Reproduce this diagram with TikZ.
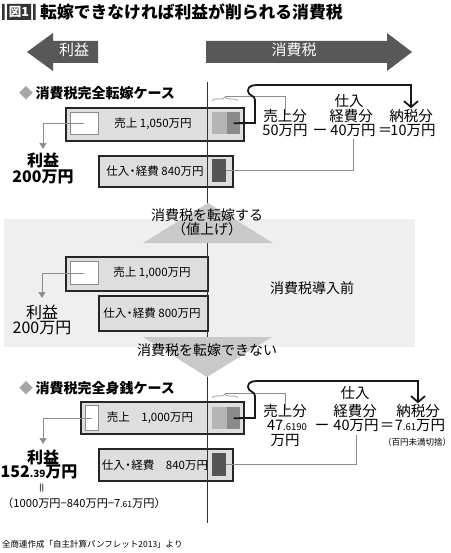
\documentclass[tikz,border=0pt]{standalone}
\usepackage{fontspec}
\setmainfont{Noto Sans CJK JP}
\usetikzlibrary{arrows.meta,decorations.pathreplacing}
\definecolor{darrow}{RGB}{88,88,88}
\definecolor{boxfill}{RGB}{222,222,222}
\definecolor{bandfill}{RGB}{239,239,239}
\definecolor{trifill}{RGB}{201,201,201}
\definecolor{taxlight}{RGB}{181,181,181}
\definecolor{taxdark}{RGB}{138,138,138}
\definecolor{costdark}{RGB}{85,85,85}
\definecolor{thingray}{RGB}{140,140,140}
\newcommand\jfs[1]{\fontsize{#1}{#1}\selectfont}
\newcommand\ndot{{\kern-0.22em}・{\kern-0.22em}}
\tikzset{
  lbl/.style={inner sep=0pt, text height=0.8em, text depth=0.1em, font=\jfs{14.5}},
  boxlbl/.style={inner sep=0pt, font=\jfs{11.5}},
  bigbox/.style={draw=black!85, line width=2pt, fill=boxfill, anchor=north west, inner sep=0pt},
  whitebox/.style={draw=thingray, line width=0.6pt, fill=white, anchor=north west, inner sep=0pt},
  taxbox/.style={fill=#1, anchor=north west, inner sep=0pt},
  thinline/.style={draw=thingray, line width=0.6pt},
  thickline/.style={draw=black!90, line width=1.8pt},
  profit/.style={inner sep=0pt, font=\jfs{16}\bfseries},
  downarrow/.style={thinline, -{Triangle[length=6pt,width=7pt]}}
}

\begin{document}
\begin{tikzpicture}[x=1pt,y=-1pt]
  \useasboundingbox (0,0) rectangle (450,553);
  % title
  \fill[black!80] (2,4) rectangle (4.5,20) (7,4) rectangle (31,20) (33,4) rectangle (35.5,20);
  \node[inner sep=0pt, text=white, font=\jfs{12.5}\bfseries] (fignum) at (19,12) {図1};
  \node[inner sep=0pt, anchor=west, font=\jfs{16.8}\bfseries] (title) at (40,12) {転嫁できなければ利益が削られる消費税};
  % header arrows
  \fill[darrow] (27,52) -- (53,33) -- (53,41) -- (98,41) -- (98,63) -- (53,63) -- (53,71) -- cycle;
  \fill[darrow] (206,41) -- (387,41) -- (387,33) -- (412,52) -- (387,71) -- (387,63) -- (206,63) -- cycle;
  \node[lbl, text=white, font=\jfs{15}] (hprofit) at (74,52) {利益};
  \node[lbl, text=white, font=\jfs{15}] (htax) at (294,52) {消費税};

  % middle band
  \fill[bandfill] (4,219) rectangle (415,347);

  % case 1: full pass-on
  \node[inner sep=0pt, anchor=west, font=\jfs{14}\bfseries] (case1) at (19,93) {{\color{black!35}◆}\,消費税完全転嫁ケース};
  \node[bigbox, minimum width=178, minimum height=33] (sale1) at (65,107) {};
  \node[bigbox, minimum width=134, minimum height=31] (cost1) at (98,155) {};
  \node[whitebox, minimum width=28, minimum height=22] (white1) at (70,112) {};
  \node[taxbox=taxlight, minimum width=15, minimum height=22] (taxl1) at (212,112) {};
  \node[taxbox=taxdark, minimum width=13, minimum height=22] (taxd1) at (227,112) {};
  \node[taxbox=costdark, minimum width=14, minimum height=23] (costd1) at (212,159) {};
  \node[boxlbl] (sale1t) at (153,124) {売上 1,050万円};
  \node[boxlbl] (cost1t) at (155,171) {仕入\ndot 経費 840万円};
  \node[profit] (pr1) at (43,160) {利益};
  \node[profit] (pr1v) at (43,177) {200万円};
  \coordinate (pa1) at (43,149);
  \node[lbl] (uri1) at (285,118) {売上分};
  \node[lbl] (uri1v) at (285,132) {50万円};
  \node[lbl] (minus1) at (320,132) {ー};
  \node[lbl] (buy1a) at (349,103) {仕入};
  \node[lbl] (buy1) at (351,118) {経費分};
  \node[lbl] (buy1v) at (353,132) {40万円};
  \node[lbl] (eq1) at (385,132) {＝};
  \node[lbl] (nz1) at (411,118) {納税分};
  \node[lbl] (nz1v) at (413,132) {10万円};
  \draw[downarrow] (white1.center) -| (pa1);
  \draw[thinline, decorate, decoration={brace, amplitude=4pt}] (212,101) -- (238,101);
  \draw[thinline] (225,96) -| (uri1.north);
  \draw[thinline] ([yshift=-2pt]buy1v.south) |- (costd1.east);
  \draw[thickline, -{Straight Barb[length=6pt,width=14pt]}] (taxd1.center) -- (255,123) -- (255,100)
    .. controls (255,95) and (248,96) .. (248,91) .. controls (248,86) and (252,85) .. (258,85)
    -| ([yshift=5pt]nz1.north);

  % before consumption tax
  \node[bigbox, minimum width=142, minimum height=34] (sale2) at (65,256) {};
  \node[bigbox, minimum width=109, minimum height=35] (cost2) at (98,295) {};
  \node[whitebox, minimum width=28, minimum height=23] (white2) at (70,261) {};
  \node[boxlbl] (sale2t) at (152,273) {売上 1,000万円};
  \node[boxlbl] (cost2t) at (152,313) {仕入\ndot 経費 800万円};
  \node[inner sep=0pt, font=\jfs{16}] (pr2) at (42,312) {利益};
  \node[inner sep=0pt, font=\jfs{16}] (pr2v) at (42,328) {200万円};
  \coordinate (pa2) at (42,298);
  \node[lbl, font=\jfs{14}] (before) at (312,290) {消費税導入前};
  \draw[downarrow] (white2.center) -| (pa2);

  % case 3: paid out of pocket
  \node[inner sep=0pt, anchor=west, font=\jfs{14}\bfseries] (case3) at (19,388) {{\color{black!35}◆}\,消費税完全身銭ケース};
  \node[bigbox, minimum width=163, minimum height=32] (sale3) at (80,401) {};
  \node[bigbox, minimum width=134, minimum height=32] (cost3) at (98,448) {};
  \node[whitebox, minimum width=13, minimum height=25] (white3) at (85,405) {};
  \node[taxbox=taxlight, minimum width=15, minimum height=22] (taxl3) at (212,407) {};
  \node[taxbox=taxdark, minimum width=13, minimum height=22] (taxd3) at (227,407) {};
  \node[taxbox=costdark, minimum width=14, minimum height=23] (costd3) at (212,453) {};
  \node[boxlbl] (sale3t) at (150,418) {売上\quad 1,000万円};
  \node[boxlbl] (cost3t) at (155,465) {仕入\ndot 経費\quad 840万円};
  \node[profit] (pr3) at (43,457) {利益};
  \node[profit] (pr3v) at (39,472) {152{\jfs{10}.39}万円};
  \coordinate (pa3) at (43,444);
  \node[inner sep=0pt, rotate=90, font=\jfs{11}] (pr3eq) at (43,488) {＝};
  \node[inner sep=0pt, font=\jfs{11.2}] (pr3calc) at (84,503) {（1000万円−840万円−7{\jfs{8.5}.61}万円）};
  \node[lbl] (uri3) at (285,413) {売上分};
  \node[lbl] (uri3v) at (287,427) {47{\jfs{9.5}.6190}};
  \node[lbl] (uri3u) at (285,442) {万円};
  \node[lbl] (minus3) at (322,427) {ー};
  \node[lbl] (buy3a) at (355,395) {仕入};
  \node[lbl] (buy3) at (355,413) {経費分};
  \node[lbl] (buy3v) at (356,427) {40万円};
  \node[lbl] (eq3) at (387,427) {＝};
  \node[lbl] (nz3) at (418,413) {納税分};
  \node[lbl] (nz3v) at (420,427) {7{\jfs{9.5}.61}万円};
  \node[inner sep=0pt, font=\jfs{8.5}] (nz3note) at (417,442) {（百円未満切捨）};
  \draw[downarrow] (white3.center) -| (pa3);
  \draw[thinline, decorate, decoration={brace, amplitude=4pt}] (212,398) -- (238,398);
  \draw[thinline] (225,393) -| (uri3.north);
  \draw[thinline] ([yshift=-3pt]buy3v.south) |- (costd3.east);
  \draw[thickline, -{Straight Barb[length=6pt,width=14pt]}] (taxd3.center) -- (255,418) -- (255,396)
    .. controls (255,391) and (248,392) .. (248,387) .. controls (248,382) and (252,381) .. (258,381)
    -| ([yshift=5pt]nz3.north);

  % centre line, triangles and their captions
  \draw[black!80, line width=0.9pt] (207,82) -- (207,523);
  \fill[trifill] (143,243) -- (273,243) -- (208,203) -- cycle;
  \fill[trifill] (143,337) -- (272,337) -- (207,377) -- cycle;
  \node[lbl, font=\jfs{14}] (up1) at (207,217) {消費税を転嫁する};
  \node[lbl, font=\jfs{14}] (up2) at (207,231) {（値上げ）};
  \node[lbl, font=\jfs{14}] (down) at (207,352) {消費税を転嫁できない};

  \node[inner sep=0pt, anchor=west, font=\jfs{8.5}] (source) at (2,544) {全商連作成「自主計算パンフレット2013」より};
\end{tikzpicture}
\end{document}
